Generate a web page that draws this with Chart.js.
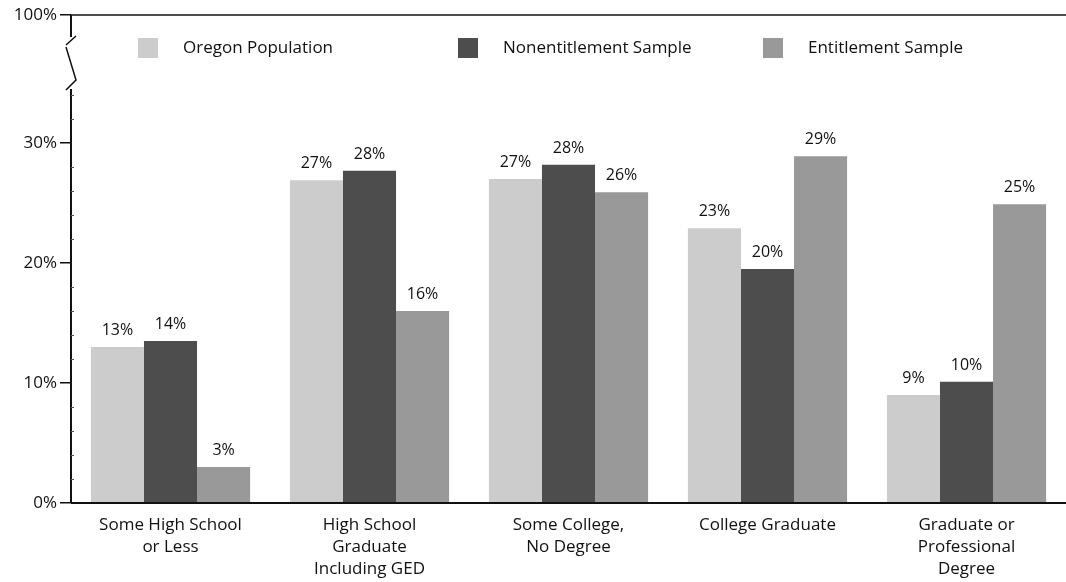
<!DOCTYPE html>
<html>
<head>
<meta charset="utf-8">
<script src="https://cdn.jsdelivr.net/npm/chart.js@4.4.0/dist/chart.umd.min.js"></script>
<style>
  html, body { margin: 0; padding: 0; background: #fff; }
  #wrap { width: 1066px; height: 582px; }
</style>
</head>
<body>
<div id="wrap"><canvas id="eduChart"></canvas></div>
<script>
// categories and series
const categories = [
    ['Some High School', 'or Less'],
    ['High School', 'Graduate', 'Including GED'],
    ['Some College,', 'No Degree'],
    'College Graduate',
    ['Graduate or', 'Professional', 'Degree']
];
const oregonPopulation = [13, 26.9, 27, 22.9, 9];
const nonentitlementSample = [13.5, 27.7, 28.2, 19.5, 10.1];
const entitlementSample = [3, 16, 25.9, 28.9, 24.9];
const yTickValues = [0, 10, 20, 30];
const breakTop = 40.67;  // top of the broken axis is labelled 100%

const FONT = '"Open Sans", Lato, sans-serif';

// bar value labels
const valueLabels = {
    id: 'valueLabels',
    afterDatasetsDraw(chart) {
        const ctx = chart.ctx;
        ctx.save();
        ctx.font = '16px ' + FONT;
        ctx.fillStyle = '#111';
        ctx.textAlign = 'center';
        ctx.textBaseline = 'alphabetic';
        chart.data.datasets.forEach((ds, i) => {
            chart.getDatasetMeta(i).data.forEach((bar, j) => {
                ctx.fillText(Math.round(ds.data[j]) + '%', bar.x, bar.y - 12);
            });
        });
        ctx.restore();
    }
};

// legend inside the plot, top row
const topLegend = {
    id: 'topLegend',
    afterDraw(chart) {
        const ctx = chart.ctx;
        const y = chart.scales.y.getPixelForValue(breakTop) + 33;
        const xs = [138, 458, 763];
        ctx.save();
        ctx.font = '17px ' + FONT;
        ctx.textBaseline = 'middle';
        chart.data.datasets.forEach((ds, i) => {
            ctx.fillStyle = ds.backgroundColor;
            ctx.fillRect(xs[i], y - 10, 20, 20);
            ctx.fillStyle = '#111';
            ctx.fillText(ds.label, xs[i] + 45, y);
        });
        ctx.restore();
    }
};

// axis frame, minor ticks and the break mark
const axisFrame = {
    id: 'axisFrame',
    afterDraw(chart) {
        const ctx = chart.ctx;
        const ys = chart.scales.y;
        const area = chart.chartArea;
        const x0 = area.left;
        ctx.save();
        ctx.strokeStyle = '#111';
        ctx.lineWidth = 1.5;
        // top line
        const yTop = ys.getPixelForValue(breakTop);
        ctx.beginPath();
        ctx.moveTo(x0, yTop);
        ctx.lineTo(chart.width, yTop);
        ctx.stroke();
        // vertical axis with a gap for the break
        ctx.lineWidth = 2;
        ctx.beginPath();
        ctx.moveTo(x0, yTop);
        ctx.lineTo(x0, yTop + 22);
        ctx.moveTo(x0, yTop + 74);
        ctx.lineTo(x0, area.bottom);
        ctx.stroke();
        // zigzag
        ctx.lineWidth = 1.5;
        ctx.beginPath();
        ctx.moveTo(x0 - 5, yTop + 30);
        ctx.lineTo(x0 + 5, yTop + 21);
        ctx.moveTo(x0 - 5, yTop + 32);
        ctx.lineTo(x0 + 5, yTop + 65);
        ctx.lineTo(x0 - 5, yTop + 75);
        ctx.stroke();
        // minor ticks every 2%
        ctx.lineWidth = 1;
        ctx.strokeStyle = '#555';
        ctx.beginPath();
        for (let v = 2; v <= 34; v += 2) {
            if (v % 10 === 0) continue;
            const py = Math.round(ys.getPixelForValue(v)) + 0.5;
            ctx.moveTo(x0, py);
            ctx.lineTo(x0 + 3, py);
        }
        ctx.stroke();
        // bottom axis
        ctx.strokeStyle = '#111';
        ctx.lineWidth = 2;
        ctx.beginPath();
        ctx.moveTo(x0, area.bottom);
        ctx.lineTo(chart.width, area.bottom);
        ctx.stroke();
        ctx.restore();
    }
};

const ctx = document.getElementById('eduChart').getContext('2d');
new Chart(ctx, {
    type: 'bar',
    data: {
        labels: categories,
        datasets: [
            { label: 'Oregon Population', data: oregonPopulation, backgroundColor: '#cccccc' },
            { label: 'Nonentitlement Sample', data: nonentitlementSample, backgroundColor: '#4d4d4d' },
            { label: 'Entitlement Sample', data: entitlementSample, backgroundColor: '#999999' }
        ]
    },
    options: {
        responsive: true,
        maintainAspectRatio: false,
        animation: false,
        layout: { padding: { top: 15, right: 0, left: 0, bottom: 0 } },
        datasets: {
            bar: { categoryPercentage: 0.8, barPercentage: 1.0 }
        },
        plugins: {
            legend: { display: false },
            tooltip: { enabled: false }
        },
        scales: {
            x: {
                afterFit(scale) {
                    scale.height = 79;
                },
                grid: { display: false },
                border: { display: false },
                ticks: {
                    color: '#111',
                    font: { family: FONT, size: 17, lineHeight: 1.3 },
                    maxRotation: 0,
                    autoSkip: false,
                    padding: 3
                }
            },
            y: {
                min: 0,
                max: breakTop,
                afterBuildTicks(scale) {
                    scale.ticks = yTickValues.concat([breakTop]).map(v => ({ value: v }));
                },
                afterFit(scale) {
                    scale.width = 71;
                },
                grid: {
                    drawOnChartArea: false,
                    drawTicks: true,
                    tickLength: 11,
                    color: '#111',
                    lineWidth: 1.5
                },
                border: { display: false },
                ticks: {
                    color: '#111',
                    font: { family: FONT, size: 17 },
                    padding: 3,
                    callback: v => (v === breakTop ? '100' : v) + '%'
                }
            }
        }
    },
    plugins: [valueLabels, topLegend, axisFrame]
});
</script>
</body>
</html>
